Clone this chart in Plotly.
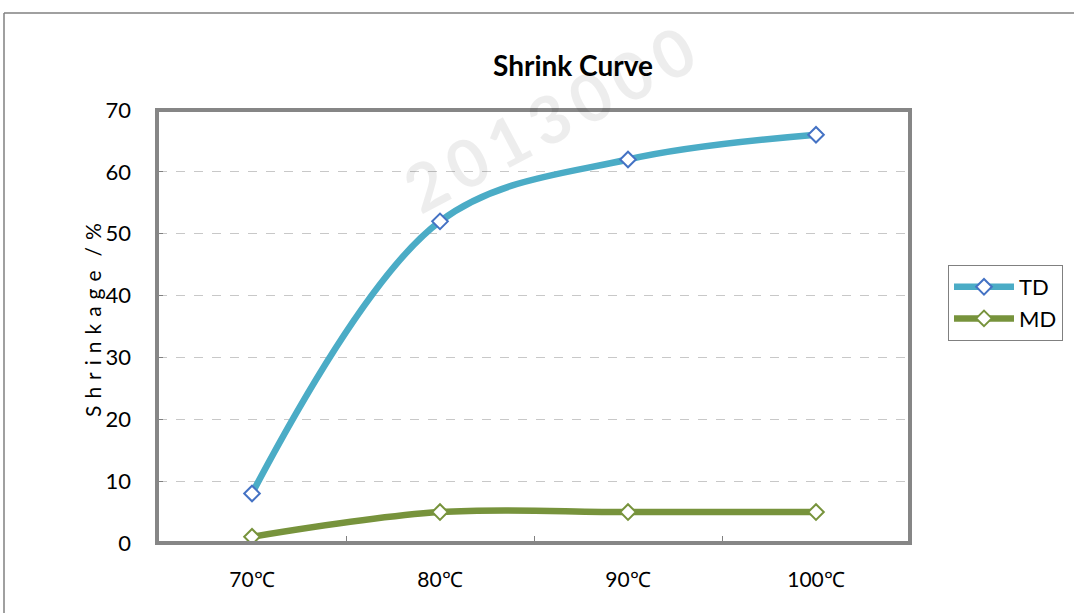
import plotly.graph_objects as go

categories = ["70℃", "80℃", "90℃", "100℃"]
td_values = [8, 52, 62, 66]
md_values = [1, 5, 5, 5]
y_ticks = [0, 10, 20, 30, 40, 50, 60, 70]

W, H = 1074, 613
def px(x): return x / W
def py(y): return 1 - y / H

xs = list(range(len(categories)))
FONT = "Lato"

fig = go.Figure()
fig.add_trace(go.Scatter(
    x=xs, y=td_values, name="TD", mode="lines+markers",
    line=dict(color="#4BACC6", width=6.5, shape="spline", smoothing=1.0),
    marker=dict(symbol="diamond", size=12, color="white",
                line=dict(color="#4472C4", width=2)),
))
fig.add_trace(go.Scatter(
    x=xs, y=md_values, name="MD", mode="lines+markers",
    line=dict(color="#77933C", width=6.5, shape="spline", smoothing=1.0),
    marker=dict(symbol="diamond", size=12, color="white",
                line=dict(color="#77933C", width=2)),
))

fig.update_layout(
    template="none",
    width=W, height=H, autosize=False,
    margin=dict(l=0, r=0, t=0, b=0, pad=0),
    paper_bgcolor="white", plot_bgcolor="white",
    font=dict(family=FONT, color="black"),
    title=dict(text="<b>Shrink Curve</b>", x=px(573), y=py(66),
               xref="paper", yref="paper", xanchor="center", yanchor="middle",
               automargin=False,
               font=dict(size=28, family=FONT, color="black")),
    xaxis=dict(domain=[px(158), px(910)], range=[-0.5, 3.5], automargin=False,
               tickvals=xs, ticktext=categories, ticks="",
               showgrid=False, zeroline=False, showline=False,
               tickfont=dict(size=21, family=FONT), ticklabelstandoff=22,
               minor=dict(tickvals=[0.5, 1.5, 2.5], ticks="inside",
                          ticklen=7, tickcolor="#808080", tickwidth=1,
                          showgrid=False)),
    yaxis=dict(domain=[py(543), py(110)], range=[0, 70], automargin=False,
               tickvals=y_ticks, ticks="inside", ticklen=5,
               tickcolor="#808080", showgrid=True, gridcolor="#C8C8C8",
               griddash="dash", gridwidth=1, zeroline=False, showline=False,
               tickfont=dict(size=22, family=FONT), ticklabelstandoff=26),
    legend=dict(x=px(948), y=py(265), xanchor="left", yanchor="top",
                bordercolor="#808080", borderwidth=1, bgcolor="white",
                font=dict(size=22, family=FONT), tracegroupgap=8,
                itemwidth=60),
    showlegend=True,
)

# outer chart frame
fig.add_shape(type="line", xref="paper", yref="paper",
              x0=px(4), x1=1, y0=py(13), y1=py(13),
              line=dict(color="#808080", width=1.5))
fig.add_shape(type="line", xref="paper", yref="paper",
              x0=px(4), x1=px(4), y0=py(13), y1=0,
              line=dict(color="#808080", width=1.5))
# plot area border
fig.add_shape(type="rect", xref="paper", yref="paper",
              x0=px(157), x1=px(910), y0=py(543), y1=py(110),
              line=dict(color="#868686", width=4), layer="above")

# axis title
ytitle = "\u2004".join("Shrinkage") + "\u2004\u2004/\u2004%"
fig.add_annotation(text=ytitle, xref="paper", yref="paper",
                   x=px(92), y=py(320), xanchor="center", yanchor="middle",
                   showarrow=False, textangle=-90,
                   font=dict(size=21, family=FONT, color="black"))
# watermark
fig.add_annotation(text="<b>" + "\u2009".join("2013000") + "</b>",
                   xref="paper", yref="paper",
                   x=px(548), y=py(118), xanchor="center", yanchor="middle",
                   showarrow=False, textangle=-28,
                   font=dict(size=66, family=FONT, color="rgba(0,0,0,0.07)"))

fig.write_html("out.html", config={"responsive": False, "displayModeBar": False},
               post_script="document.body.style.margin='0';")
